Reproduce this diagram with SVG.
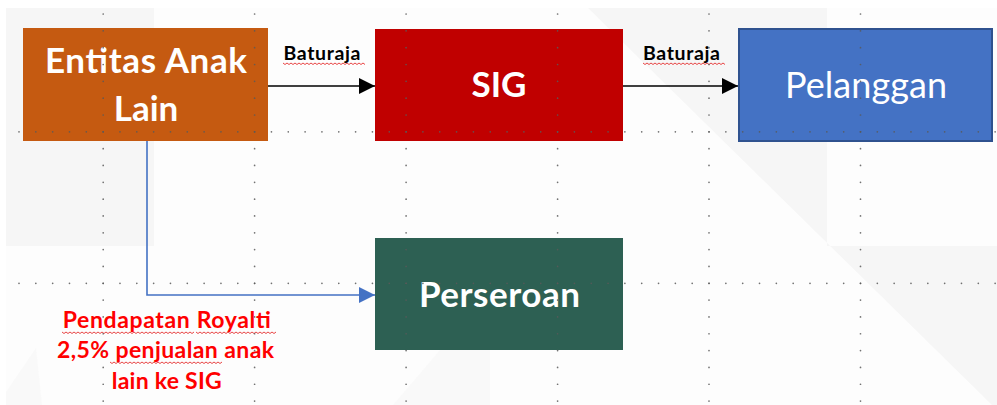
<svg xmlns="http://www.w3.org/2000/svg" width="997" height="405" viewBox="0 0 997 405">
<style>
.node-text{font-family:Lato,"Liberation Sans",sans-serif;fill:#fff;text-anchor:middle}
.bold{font-weight:bold}
.lbl{font-family:Lato,"Liberation Sans",sans-serif;font-weight:bold;fill:#000;font-size:19.5px}
.red{font-family:Lato,"Liberation Sans",sans-serif;font-weight:bold;fill:#ff0000;font-size:23px;text-anchor:middle}
.wave{fill:none;stroke:#e53030;stroke-width:0.9}
.grid{stroke:#5a5a5a;stroke-width:1.7;stroke-linecap:round;stroke-dasharray:0 16.83;opacity:0.85}
.bg{fill:#f6f6f6}
</style>
<defs>
<marker id="ah-black" markerUnits="userSpaceOnUse" markerWidth="16" markerHeight="16" refX="16" refY="8" orient="auto">
<path d="M0,0 L16,8 L0,16 Z" fill="#000"/>
</marker>
<marker id="ah-blue" markerUnits="userSpaceOnUse" markerWidth="16" markerHeight="16" refX="16" refY="8" orient="auto">
<path d="M0,0 L16,8 L0,16 Z" fill="#4472C4"/>
</marker>
</defs>
<g id="background">
<rect x="0" y="0" width="997" height="405" fill="#fff"/>
<rect x="6" y="8" width="991" height="397" fill="#fdfdfd"/>
<rect class="bg" x="6" y="8" width="148" height="238"/>
<polygon class="bg" points="588,8 827,8 827,246 997,246 997,405 992,405"/>
<polygon class="bg" points="6,392 36,348 42,405 6,405" opacity="0.6"/>
<polygon class="bg" points="393,405 440,350 490,350 490,405" opacity="0.6"/>
</g>
<g id="connectors">
<line x1="268" y1="86" x2="375" y2="86" stroke="#000" stroke-width="1.6" marker-end="url(#ah-black)"/>
<line x1="623" y1="86" x2="738" y2="86" stroke="#000" stroke-width="1.6" marker-end="url(#ah-black)"/>
<path d="M147,141 V295 H375" fill="none" stroke="#4472C4" stroke-width="1.6" marker-end="url(#ah-blue)"/>
</g>
<g id="node-entitas">
<rect x="23" y="28" width="245" height="113" fill="#C55A11"/>
<text class="node-text bold" x="146" y="73" font-size="35" textLength="202" lengthAdjust="spacing">Entitas Anak</text>
<text class="node-text bold" x="146" y="121" font-size="35">Lain</text>
</g>
<g id="node-sig">
<rect x="375" y="29" width="248" height="112" fill="#C00000"/>
<text class="node-text bold" x="499" y="97" font-size="35">SIG</text>
</g>
<g id="node-pelanggan">
<rect x="739" y="29" width="253" height="112" fill="#4472C4" stroke="#2F528F" stroke-width="2"/>
<text class="node-text" x="866" y="98" font-size="36" textLength="162" lengthAdjust="spacing">Pelanggan</text>
</g>
<g id="node-perseroan">
<rect x="375" y="238" width="248" height="112" fill="#2D6053"/>
<text class="node-text bold" x="499.5" y="307" font-size="35" textLength="161" lengthAdjust="spacing">Perseroan</text>
</g>
<g id="labels">
<text class="lbl" x="283.5" y="59.5" textLength="77" lengthAdjust="spacing">Baturaja</text>
<path class="wave" d="M283,63 l2,1.5 l2,-1.5 l2,1.5 l2,-1.5 l2,1.5 l2,-1.5 l2,1.5 l2,-1.5 l2,1.5 l2,-1.5 l2,1.5 l2,-1.5 l2,1.5 l2,-1.5 l2,1.5 l2,-1.5 l2,1.5 l2,-1.5 l2,1.5 l2,-1.5 l2,1.5 l2,-1.5 l2,1.5 l2,-1.5 l2,1.5 l2,-1.5 l2,1.5 l2,-1.5 l2,1.5 l2,-1.5 l2,1.5 l2,-1.5 l2,1.5 l2,-1.5 l2,1.5 l2,-1.5 l2,1.5 l2,-1.5 l2,1.5 l2,-1.5 l2,1.5"/>
<text class="lbl" x="643" y="59.5" textLength="77" lengthAdjust="spacing">Baturaja</text>
<path class="wave" d="M643,63 l2,1.5 l2,-1.5 l2,1.5 l2,-1.5 l2,1.5 l2,-1.5 l2,1.5 l2,-1.5 l2,1.5 l2,-1.5 l2,1.5 l2,-1.5 l2,1.5 l2,-1.5 l2,1.5 l2,-1.5 l2,1.5 l2,-1.5 l2,1.5 l2,-1.5 l2,1.5 l2,-1.5 l2,1.5 l2,-1.5 l2,1.5 l2,-1.5 l2,1.5 l2,-1.5 l2,1.5 l2,-1.5 l2,1.5 l2,-1.5 l2,1.5 l2,-1.5 l2,1.5 l2,-1.5 l2,1.5 l2,-1.5 l2,1.5 l2,-1.5 l2,1.5"/>
<text class="red" x="166.7" y="328" textLength="208" lengthAdjust="spacing">Pendapatan Royalti</text>
<text class="red" x="165.5" y="357.5" textLength="217" lengthAdjust="spacing">2,5% penjualan anak</text>
<text class="red" x="166.7" y="389" textLength="110" lengthAdjust="spacing">lain ke SIG</text>
<path class="wave" d="M62,332 l2,1.5 l2,-1.5 l2,1.5 l2,-1.5 l2,1.5 l2,-1.5 l2,1.5 l2,-1.5 l2,1.5 l2,-1.5 l2,1.5 l2,-1.5 l2,1.5 l2,-1.5 l2,1.5 l2,-1.5 l2,1.5 l2,-1.5 l2,1.5 l2,-1.5 l2,1.5 l2,-1.5 l2,1.5 l2,-1.5 l2,1.5 l2,-1.5 l2,1.5 l2,-1.5 l2,1.5 l2,-1.5 l2,1.5 l2,-1.5 l2,1.5 l2,-1.5 l2,1.5 l2,-1.5 l2,1.5 l2,-1.5 l2,1.5 l2,-1.5 l2,1.5 l2,-1.5 l2,1.5 l2,-1.5 l2,1.5 l2,-1.5 l2,1.5 l2,-1.5 l2,1.5 l2,-1.5 l2,1.5 l2,-1.5 l2,1.5 l2,-1.5 l2,1.5 l2,-1.5 l2,1.5 l2,-1.5 l2,1.5 l2,-1.5 l2,1.5 l2,-1.5 l2,1.5 l2,-1.5 l2,1.5 l2,-1.5"/>
<path class="wave" d="M196,332 l2,1.5 l2,-1.5 l2,1.5 l2,-1.5 l2,1.5 l2,-1.5 l2,1.5 l2,-1.5 l2,1.5 l2,-1.5 l2,1.5 l2,-1.5 l2,1.5 l2,-1.5 l2,1.5 l2,-1.5 l2,1.5 l2,-1.5 l2,1.5 l2,-1.5 l2,1.5 l2,-1.5 l2,1.5 l2,-1.5 l2,1.5 l2,-1.5 l2,1.5 l2,-1.5 l2,1.5 l2,-1.5 l2,1.5 l2,-1.5 l2,1.5 l2,-1.5 l2,1.5 l2,-1.5 l2,1.5 l2,-1.5 l2,1.5 l2,-1.5"/>
<path class="wave" d="M110,362 l2,1.5 l2,-1.5 l2,1.5 l2,-1.5 l2,1.5 l2,-1.5 l2,1.5 l2,-1.5 l2,1.5 l2,-1.5 l2,1.5 l2,-1.5 l2,1.5 l2,-1.5 l2,1.5 l2,-1.5 l2,1.5 l2,-1.5 l2,1.5 l2,-1.5 l2,1.5 l2,-1.5 l2,1.5 l2,-1.5 l2,1.5 l2,-1.5 l2,1.5 l2,-1.5 l2,1.5 l2,-1.5 l2,1.5 l2,-1.5 l2,1.5 l2,-1.5 l2,1.5 l2,-1.5 l2,1.5 l2,-1.5 l2,1.5 l2,-1.5 l2,1.5 l2,-1.5 l2,1.5 l2,-1.5 l2,1.5 l2,-1.5 l2,1.5 l2,-1.5 l2,1.5 l2,-1.5 l2,1.5 l2,-1.5 l2,1.5 l2,-1.5 l2,1.5 l2,-1.5"/>
</g>
<g id="gridlines">
<line class="grid" x1="19" y1="131.8" x2="997" y2="131.8"/>
<line class="grid" x1="19" y1="283.3" x2="997" y2="283.3"/>
<line class="grid" x1="103.2" y1="14" x2="103.2" y2="405"/>
<line class="grid" x1="254.6" y1="14" x2="254.6" y2="405"/>
<line class="grid" x1="406.1" y1="14" x2="406.1" y2="405"/>
<line class="grid" x1="557.6" y1="14" x2="557.6" y2="405"/>
<line class="grid" x1="709" y1="14" x2="709" y2="405"/>
<line class="grid" x1="860.5" y1="14" x2="860.5" y2="405"/>
</g>
</svg>
